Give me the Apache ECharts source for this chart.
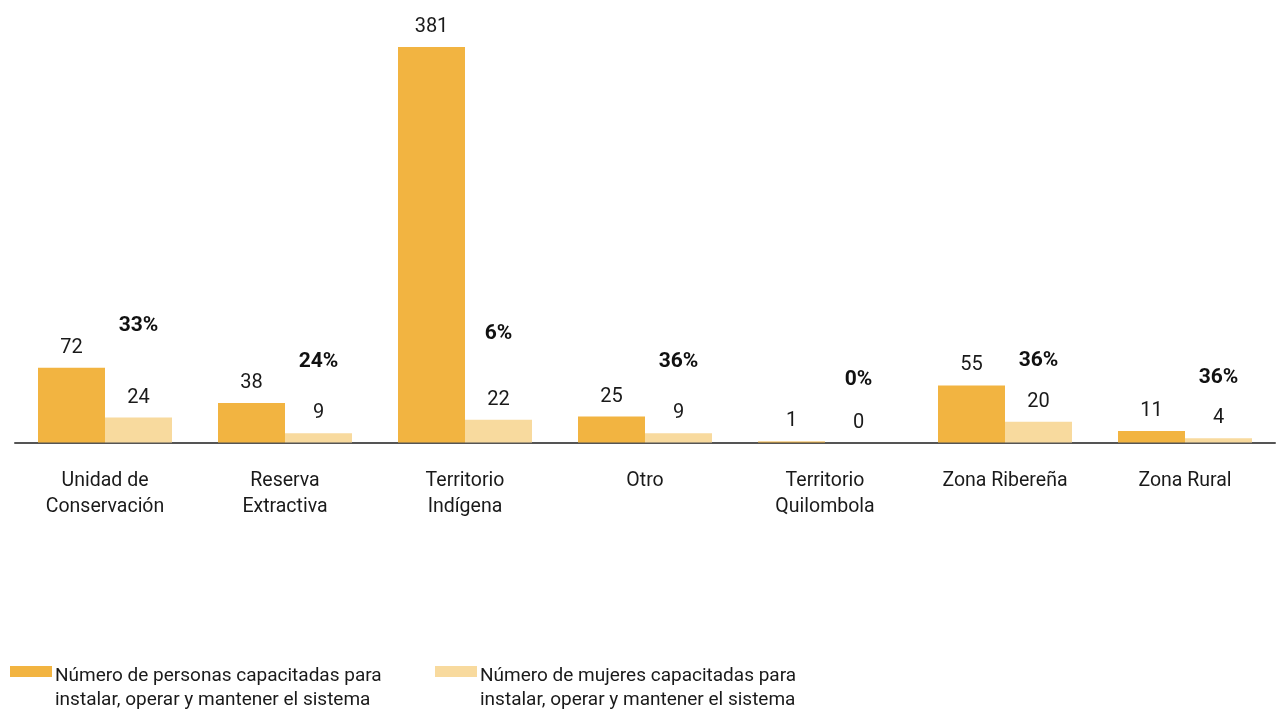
<!DOCTYPE html>
<html>
<head>
<meta charset="utf-8">
<script src="https://cdn.jsdelivr.net/npm/echarts@6/dist/echarts.min.js"></script>
<style>
html,body{margin:0;padding:0;background:#fff;}
#chart{width:1285px;height:710px;}
</style>
</head>
<body>
<div id="chart"></div>
<script>
// ---- data ----
const categories = ['Unidad de\nConservación', 'Reserva\nExtractiva', 'Territorio\nIndígena', 'Otro', 'Territorio\nQuilombola', 'Zona Ribereña', 'Zona Rural'];
const personas = [72, 38, 381, 25, 1, 55, 11];
const mujeres = [24, 9, 22, 9, 0, 20, 4];
// vertical level (in data units) at which each share-of-women label is written
const pctLevel = [112, 77.5, 104.5, 77.5, 60, 78.5, 62];
const seriesNames = [
  'Número de personas capacitadas para\ninstalar, operar y mantener el sistema',
  'Número de mujeres capacitadas para\ninstalar, operar y mantener el sistema'
];

const FONT = 'Roboto';
const chart = echarts.init(document.getElementById('chart'), null, {renderer: 'canvas'});

const valueLabel = {
  show: true, position: 'top', distance: 10,
  color: '#1a1a1a', fontSize: 20, fontFamily: FONT
};

chart.setOption({
  animation: false,
  grid: {left: 15, right: 10, top: 47, bottom: 267.5, containLabel: false},
  xAxis: {
    type: 'category',
    data: categories,
    axisLine: {show: true, lineStyle: {color: '#555', width: 2}},
    axisTick: {show: false},
    axisLabel: {color: '#1a1a1a', fontSize: 19.5, fontFamily: FONT, lineHeight: 26, margin: 26, interval: 0}
  },
  yAxis: {
    type: 'value', min: 0, max: 381,
    show: false, splitLine: {show: false}
  },
  legend: {
    left: 5, top: 659,
    itemWidth: 42, itemHeight: 44, itemGap: 22,
    icon: 'path://M0,0L42,0L42,11L0,11Z M0,44',
    itemStyle: {borderWidth: 0},
    textStyle: {color: '#1a1a1a', fontSize: 19, fontFamily: FONT, lineHeight: 24, padding: [0, 0, 0, -2], width: 358},
    data: seriesNames,
    selectedMode: false
  },
  series: [
    {
      name: seriesNames[0], type: 'bar', data: personas,
      barWidth: 67, barGap: '0%',
      itemStyle: {color: '#F2B441'},
      label: valueLabel
    },
    {
      name: seriesNames[1], type: 'bar', data: mujeres,
      barWidth: 67,
      itemStyle: {color: '#F8DA9E'},
      label: valueLabel
    },
    {
      name: 'pct', type: 'scatter',
      data: pctLevel.map((v, i) => [i, v]),
      symbolSize: 1, itemStyle: {color: 'rgba(255,255,255,0)', opacity: 1},
      silent: true,
      label: {
        show: true, position: 'inside', offset: [33.5, 0],
        color: '#111', fontSize: 21, fontWeight: 'bold', fontFamily: FONT,
        textBorderWidth: 0,
        formatter: p => Math.round(100 * mujeres[p.dataIndex] / personas[p.dataIndex]) + '%'
      }
    }
  ]
});
</script>
</body>
</html>
